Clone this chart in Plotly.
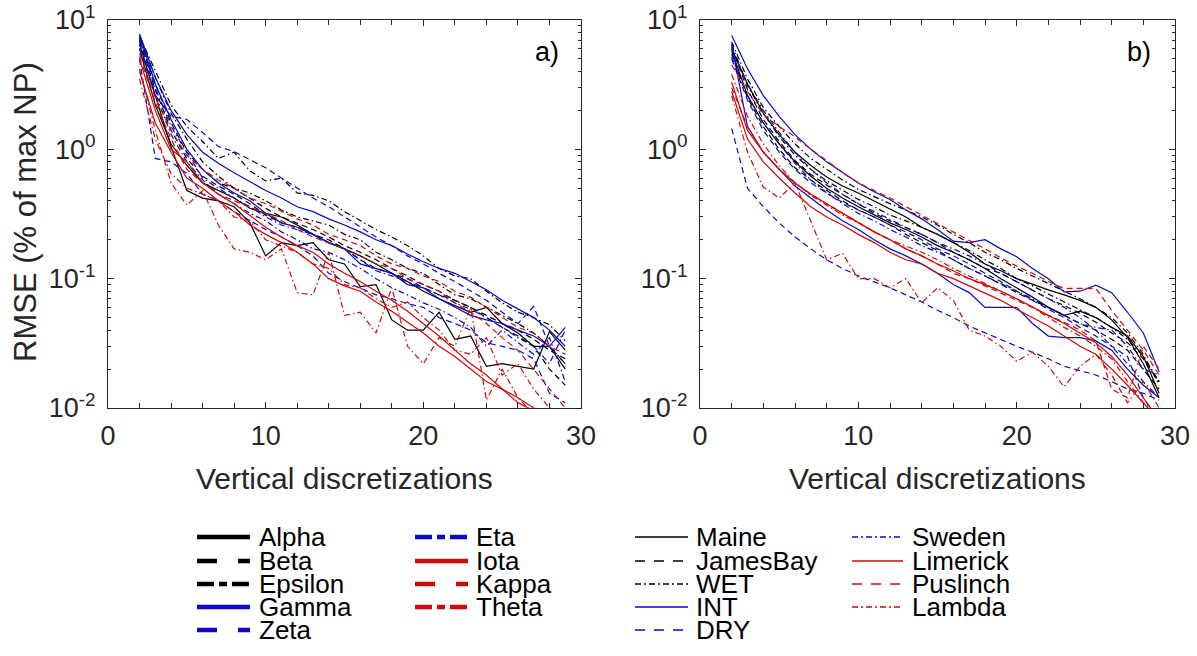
import plotly.graph_objects as go

# ---------------- data ----------------
x_vals = list(range(2, 30))

names_thick = ["Alpha", "Beta", "Epsilon", "Gamma", "Zeta", "Eta", "Iota", "Kappa", "Theta"]
names_thin = ["Maine", "JamesBay", "WET", "INT", "DRY", "Sweden", "Limerick", "Puslinch", "Lambda"]

# panel a
a_alpha = [6.5, 2.6, 1.05, 0.48, 0.42, 0.40, 0.36, 0.27, 0.15, 0.19, 0.18, 0.19, 0.14, 0.13, 0.087, 0.090, 0.048, 0.040, 0.040, 0.055, 0.034, 0.036, 0.021, 0.022, 0.021, 0.020, 0.039, 0.028]
a_beta = [7.0, 3.2, 1.6, 0.95, 0.70, 0.55, 0.50, 0.42, 0.35, 0.30, 0.27, 0.24, 0.21, 0.18, 0.16, 0.14, 0.12, 0.105, 0.090, 0.080, 0.068, 0.060, 0.052, 0.045, 0.040, 0.034, 0.028, 0.024]
a_epsilon = [7.5, 4.0, 2.2, 1.5, 1.15, 0.85, 0.95, 0.68, 0.57, 0.60, 0.46, 0.44, 0.40, 0.33, 0.28, 0.24, 0.21, 0.18, 0.15, 0.12, 0.105, 0.10, 0.080, 0.065, 0.055, 0.050, 0.044, 0.033]
a_gamma = [7.8, 3.6, 2.0, 1.3, 0.95, 0.78, 0.66, 0.56, 0.48, 0.42, 0.36, 0.33, 0.29, 0.26, 0.23, 0.20, 0.18, 0.155, 0.135, 0.12, 0.11, 0.095, 0.082, 0.068, 0.058, 0.050, 0.040, 0.030]
a_zeta = [6.0, 2.6, 1.8, 1.7, 1.35, 1.05, 0.96, 0.83, 0.72, 0.60, 0.50, 0.42, 0.36, 0.30, 0.25, 0.21, 0.18, 0.15, 0.13, 0.11, 0.095, 0.080, 0.068, 0.055, 0.045, 0.061, 0.030, 0.022]
a_eta = [7.2, 3.0, 1.5, 0.95, 0.60, 0.50, 0.42, 0.36, 0.30, 0.26, 0.24, 0.22, 0.19, 0.17, 0.14, 0.115, 0.105, 0.095, 0.085, 0.075, 0.065, 0.058, 0.050, 0.042, 0.035, 0.030, 0.022, 0.040]
a_iota = [5.0, 2.0, 1.0, 0.80, 0.55, 0.45, 0.38, 0.31, 0.25, 0.21, 0.18, 0.16, 0.13, 0.11, 0.095, 0.080, 0.068, 0.056, 0.045, 0.036, 0.028, 0.022, 0.018, 0.014, 0.011, 0.0095, 0.0085, 0.0075]
a_kappa = [5.5, 2.5, 1.4, 0.90, 0.70, 0.58, 0.50, 0.42, 0.38, 0.33, 0.29, 0.26, 0.22, 0.20, 0.18, 0.15, 0.13, 0.12, 0.105, 0.095, 0.080, 0.072, 0.060, 0.050, 0.042, 0.038, 0.030, 0.026]
a_theta = [4.2, 1.4, 0.55, 0.37, 0.48, 0.26, 0.17, 0.16, 0.14, 0.17, 0.078, 0.075, 0.16, 0.052, 0.055, 0.038, 0.085, 0.030, 0.022, 0.035, 0.030, 0.060, 0.0115, 0.020, 0.012, 0.009, 0.0085, 0.008]
a_maine = [6.0, 2.2, 1.1, 0.75, 0.55, 0.48, 0.42, 0.35, 0.32, 0.30, 0.26, 0.22, 0.19, 0.17, 0.15, 0.13, 0.11, 0.095, 0.080, 0.070, 0.062, 0.055, 0.060, 0.045, 0.038, 0.030, 0.030, 0.020]
a_jamesbay = [6.8, 2.9, 1.4, 0.85, 0.62, 0.52, 0.45, 0.38, 0.31, 0.27, 0.25, 0.22, 0.20, 0.17, 0.14, 0.12, 0.11, 0.10, 0.085, 0.075, 0.068, 0.060, 0.050, 0.042, 0.036, 0.030, 0.020, 0.015]
a_wet = [7.3, 3.6, 1.9, 1.2, 0.80, 0.62, 0.50, 0.46, 0.40, 0.34, 0.30, 0.28, 0.26, 0.22, 0.20, 0.16, 0.14, 0.12, 0.11, 0.090, 0.075, 0.070, 0.060, 0.052, 0.045, 0.038, 0.030, 0.022]
a_int = [7.6, 3.2, 1.7, 1.0, 0.70, 0.55, 0.46, 0.40, 0.32, 0.27, 0.25, 0.22, 0.19, 0.17, 0.13, 0.12, 0.11, 0.090, 0.085, 0.070, 0.060, 0.052, 0.048, 0.045, 0.040, 0.036, 0.030, 0.042]
a_dry = [5.0, 0.85, 0.80, 0.65, 0.45, 0.40, 0.33, 0.28, 0.24, 0.21, 0.18, 0.15, 0.11, 0.095, 0.085, 0.075, 0.070, 0.064, 0.060, 0.050, 0.045, 0.040, 0.032, 0.030, 0.028, 0.024, 0.013, 0.011]
a_sweden = [6.5, 2.7, 1.3, 0.80, 0.58, 0.45, 0.38, 0.32, 0.28, 0.23, 0.20, 0.17, 0.16, 0.14, 0.12, 0.10, 0.085, 0.075, 0.065, 0.058, 0.050, 0.042, 0.030, 0.040, 0.032, 0.026, 0.035, 0.016]
a_limerick = [4.0, 1.6, 0.95, 0.60, 0.50, 0.40, 0.33, 0.26, 0.22, 0.19, 0.16, 0.13, 0.10, 0.088, 0.080, 0.066, 0.056, 0.046, 0.038, 0.030, 0.025, 0.020, 0.016, 0.014, 0.012, 0.010, 0.0092, 0.0088]
a_puslinch = [5.2, 2.3, 1.2, 0.70, 0.55, 0.45, 0.40, 0.36, 0.32, 0.28, 0.24, 0.21, 0.19, 0.17, 0.15, 0.13, 0.12, 0.10, 0.090, 0.080, 0.065, 0.055, 0.045, 0.035, 0.028, 0.020, 0.014, 0.010]
a_lambda = [3.5, 1.2, 0.65, 0.50, 0.45, 0.40, 0.30, 0.28, 0.20, 0.18, 0.16, 0.13, 0.12, 0.090, 0.085, 0.070, 0.060, 0.066, 0.050, 0.040, 0.028, 0.026, 0.035, 0.018, 0.022, 0.014, 0.010, 0.009]

# panel b
b_alpha = [5.8, 2.6, 1.6, 1.1, 0.80, 0.62, 0.50, 0.42, 0.36, 0.31, 0.27, 0.24, 0.21, 0.18, 0.16, 0.14, 0.12, 0.10, 0.085, 0.072, 0.060, 0.052, 0.056, 0.050, 0.042, 0.036, 0.025, 0.013]
b_beta = [6.2, 2.9, 1.7, 1.15, 0.82, 0.64, 0.53, 0.45, 0.38, 0.32, 0.28, 0.25, 0.22, 0.19, 0.16, 0.14, 0.12, 0.11, 0.095, 0.082, 0.070, 0.062, 0.054, 0.046, 0.038, 0.032, 0.024, 0.016]
b_epsilon = [6.5, 3.1, 1.9, 1.25, 0.90, 0.70, 0.57, 0.48, 0.41, 0.36, 0.31, 0.28, 0.25, 0.22, 0.19, 0.165, 0.14, 0.12, 0.10, 0.088, 0.076, 0.066, 0.058, 0.050, 0.042, 0.034, 0.025, 0.016]
b_gamma = [6.5, 1.5, 0.95, 0.70, 0.52, 0.42, 0.34, 0.28, 0.24, 0.20, 0.17, 0.15, 0.13, 0.11, 0.090, 0.078, 0.060, 0.060, 0.060, 0.045, 0.036, 0.035, 0.035, 0.033, 0.028, 0.020, 0.015, 0.012]
b_zeta = [5.0, 2.4, 1.4, 0.95, 0.70, 0.55, 0.46, 0.39, 0.34, 0.30, 0.26, 0.23, 0.20, 0.17, 0.15, 0.13, 0.11, 0.095, 0.080, 0.068, 0.058, 0.050, 0.042, 0.036, 0.030, 0.025, 0.012, 0.008]
b_eta = [5.2, 2.6, 1.6, 1.1, 0.78, 0.58, 0.46, 0.38, 0.32, 0.28, 0.24, 0.21, 0.18, 0.16, 0.14, 0.12, 0.105, 0.092, 0.080, 0.070, 0.060, 0.052, 0.045, 0.042, 0.040, 0.030, 0.020, 0.018]
b_iota = [3.3, 1.4, 0.95, 0.70, 0.55, 0.45, 0.38, 0.32, 0.27, 0.23, 0.20, 0.17, 0.15, 0.13, 0.115, 0.10, 0.090, 0.080, 0.070, 0.060, 0.052, 0.045, 0.038, 0.032, 0.025, 0.018, 0.012, 0.008]
b_kappa = [4.5, 2.8, 1.85, 1.5, 1.25, 1.0, 0.82, 0.66, 0.55, 0.48, 0.42, 0.36, 0.31, 0.27, 0.23, 0.20, 0.17, 0.145, 0.125, 0.11, 0.095, 0.084, 0.084, 0.084, 0.057, 0.040, 0.028, 0.018]
b_theta = [3.8, 1.8, 1.1, 0.75, 0.55, 0.44, 0.37, 0.31, 0.27, 0.23, 0.20, 0.18, 0.16, 0.14, 0.12, 0.105, 0.092, 0.080, 0.070, 0.060, 0.050, 0.042, 0.036, 0.030, 0.024, 0.016, 0.011, 0.009]
b_maine = [6.0, 3.2, 1.9, 1.3, 0.95, 0.75, 0.61, 0.52, 0.46, 0.40, 0.35, 0.30, 0.25, 0.22, 0.19, 0.16, 0.13, 0.115, 0.10, 0.090, 0.082, 0.075, 0.068, 0.060, 0.048, 0.035, 0.022, 0.012]
b_jamesbay = [5.5, 2.5, 1.5, 1.0, 0.72, 0.58, 0.48, 0.40, 0.34, 0.30, 0.26, 0.22, 0.19, 0.165, 0.14, 0.12, 0.105, 0.090, 0.078, 0.068, 0.060, 0.052, 0.045, 0.040, 0.034, 0.028, 0.020, 0.014]
b_wet = [6.8, 3.5, 2.1, 1.5, 1.1, 0.85, 0.70, 0.58, 0.49, 0.43, 0.38, 0.34, 0.30, 0.26, 0.22, 0.19, 0.16, 0.14, 0.12, 0.105, 0.092, 0.080, 0.070, 0.060, 0.050, 0.038, 0.026, 0.015]
b_int = [7.6, 4.2, 2.6, 1.8, 1.3, 1.0, 0.80, 0.66, 0.55, 0.47, 0.41, 0.34, 0.29, 0.24, 0.195, 0.19, 0.20, 0.17, 0.148, 0.12, 0.10, 0.079, 0.080, 0.089, 0.078, 0.055, 0.038, 0.019]
b_dry = [1.45, 0.50, 0.36, 0.27, 0.21, 0.17, 0.14, 0.12, 0.105, 0.095, 0.085, 0.075, 0.066, 0.057, 0.050, 0.043, 0.038, 0.034, 0.030, 0.027, 0.024, 0.021, 0.0195, 0.018, 0.016, 0.014, 0.013, 0.0115]
b_sweden = [6.0, 3.2, 2.0, 1.35, 0.95, 0.70, 0.55, 0.45, 0.38, 0.33, 0.29, 0.25, 0.22, 0.19, 0.17, 0.15, 0.13, 0.11, 0.095, 0.082, 0.070, 0.060, 0.050, 0.040, 0.030, 0.022, 0.016, 0.012]
b_limerick = [2.8, 1.2, 0.80, 0.60, 0.46, 0.36, 0.30, 0.26, 0.22, 0.19, 0.16, 0.14, 0.13, 0.11, 0.10, 0.088, 0.078, 0.068, 0.058, 0.050, 0.043, 0.036, 0.030, 0.026, 0.020, 0.015, 0.011, 0.008]
b_puslinch = [3.0, 1.5, 0.95, 0.70, 0.55, 0.45, 0.38, 0.32, 0.27, 0.23, 0.20, 0.17, 0.15, 0.13, 0.11, 0.10, 0.088, 0.077, 0.068, 0.060, 0.052, 0.046, 0.040, 0.033, 0.014, 0.012, 0.030, 0.020]
b_lambda = [2.6, 0.95, 0.51, 0.42, 0.55, 0.28, 0.14, 0.157, 0.10, 0.10, 0.085, 0.10, 0.065, 0.085, 0.068, 0.040, 0.036, 0.030, 0.023, 0.027, 0.021, 0.0146, 0.021, 0.026, 0.018, 0.011, 0.016, 0.010]

panel_a = {"Alpha": a_alpha, "Beta": a_beta, "Epsilon": a_epsilon, "Gamma": a_gamma, "Zeta": a_zeta,
           "Eta": a_eta, "Iota": a_iota, "Kappa": a_kappa, "Theta": a_theta,
           "Maine": a_maine, "JamesBay": a_jamesbay, "WET": a_wet, "INT": a_int, "DRY": a_dry,
           "Sweden": a_sweden, "Limerick": a_limerick, "Puslinch": a_puslinch, "Lambda": a_lambda}
panel_b = {"Alpha": b_alpha, "Beta": b_beta, "Epsilon": b_epsilon, "Gamma": b_gamma, "Zeta": b_zeta,
           "Eta": b_eta, "Iota": b_iota, "Kappa": b_kappa, "Theta": b_theta,
           "Maine": b_maine, "JamesBay": b_jamesbay, "WET": b_wet, "INT": b_int, "DRY": b_dry,
           "Sweden": b_sweden, "Limerick": b_limerick, "Puslinch": b_puslinch, "Lambda": b_lambda}
for d in (panel_a, panel_b):
    for k, v in d.items():
        assert len(v) == len(x_vals), (k, len(v))

# ---------------- styles ----------------
BLACK, BLUE, RED = "#000000", "#0a0ac8", "#cc0a0a"
series_style = {
    "Alpha": (BLACK, "solid"), "Beta": (BLACK, "dash"), "Epsilon": (BLACK, "dashdot"),
    "Gamma": (BLUE, "solid"), "Zeta": (BLUE, "dash"), "Eta": (BLUE, "dashdot"),
    "Iota": (RED, "solid"), "Kappa": (RED, "dash"), "Theta": (RED, "dashdot"),
    "Maine": (BLACK, "solid"), "JamesBay": (BLACK, "dash"), "WET": (BLACK, "dashdot"),
    "INT": (BLUE, "solid"), "DRY": (BLUE, "dash"), "Sweden": (BLUE, "dashdot"),
    "Limerick": (RED, "solid"), "Puslinch": (RED, "dash"), "Lambda": (RED, "dashdot"),
}
plot_dash = {"solid": "solid", "dash": "6px,4px", "dashdot": "6px,3px,1.5px,3px"}
leg_dash_thick = {"solid": "solid", "dash": "20px,21px", "dashdot": "17px,5px,8px,5px"}
leg_dash_thin = {"solid": "solid", "dash": "10px,9px", "dashdot": "6px,3px,2px,3px"}

FONT = "Liberation Sans, Arial, sans-serif"
W, H = 1197, 656
AX = "#262626"

def px(xp):
    return xp / W

def py(yp):
    return 1 - yp / H

fig = go.Figure()

draw_order = ["Maine", "JamesBay", "WET", "Alpha", "Beta", "Epsilon",
              "INT", "DRY", "Sweden", "Gamma", "Zeta", "Eta",
              "Limerick", "Puslinch", "Lambda", "Iota", "Kappa", "Theta"]

for panel, (xa, ya) in ((panel_a, ("x", "y")), (panel_b, ("x2", "y2"))):
    for name in draw_order:
        col, ds = series_style[name]
        fig.add_trace(go.Scatter(
            x=x_vals, y=panel[name], mode="lines", name=name, showlegend=False,
            xaxis=xa, yaxis=ya,
            line=dict(color=col, width=1.2, dash=plot_dash[ds]),
        ))

# ---------------- axes ----------------
y_top, y_bot = 20, 408
dom_y = [py(y_bot), py(y_top)]
minor_log = [m * 10 ** e for e in (-2, -1, 0) for m in range(2, 10)]

def xaxis_cfg(x0, x1):
    return dict(
        domain=[px(x0), px(x1)], range=[0, 30], tickmode="array", tickvals=[0, 10, 20, 30],
        ticks="inside", ticklen=6, tickcolor=AX, showline=True, linecolor=AX,
        linewidth=1, mirror="ticks", showgrid=False, zeroline=False, automargin=False,
        tickfont=dict(family=FONT, size=27, color=AX), ticklabelstandoff=4,
        minor=dict(ticks="inside", ticklen=5, tickcolor=AX, tickmode="array",
                   tickvals=list(range(2, 30, 2)), showgrid=False),
    )

def yaxis_cfg(anchor):
    return dict(
        domain=dom_y, type="log", range=[-2, 1], tickmode="array",
        tickvals=[0.01, 0.1, 1, 10],
        ticktext=["10<sup>-2</sup>", "10<sup>-1</sup>", "10<sup>0</sup>", "10<sup>1</sup>"],
        ticks="inside", ticklen=6, tickcolor=AX, showline=True, linecolor=AX,
        linewidth=1, mirror="ticks", showgrid=False, zeroline=False, anchor=anchor, automargin=False,
        tickfont=dict(family=FONT, size=27, color=AX), ticklabelstandoff=6,
        minor=dict(ticks="inside", ticklen=3, tickcolor=AX, tickmode="array",
                   tickvals=minor_log, showgrid=False),
    )

fig.update_layout(
    template="none",
    xaxis=dict(xaxis_cfg(108, 581), anchor="y"),
    yaxis=yaxis_cfg("x"),
    xaxis2=dict(xaxis_cfg(700, 1175), anchor="y2"),
    yaxis2=yaxis_cfg("x2"),
)

annotations = []
shapes = []

# axis titles
for cx in ((108 + 581) / 2, (700 + 1175) / 2):
    annotations.append(dict(text="Vertical discretizations", x=px(cx), y=py(478), xref="paper", yref="paper",
                            showarrow=False, xanchor="center", yanchor="middle",
                            font=dict(family=FONT, size=30, color=AX)))
annotations.append(dict(text="RMSE (% of max NP)", x=px(25), y=py(212), xref="paper", yref="paper",
                        showarrow=False, xanchor="center", yanchor="middle", textangle=-90,
                        font=dict(family=FONT, size=31, color=AX)))
# panel labels
annotations.append(dict(text="a)", x=px(547), y=py(52), xref="paper", yref="paper", showarrow=False,
                        xanchor="center", yanchor="middle", font=dict(family=FONT, size=27, color="#000000")))
annotations.append(dict(text="b)", x=px(1139), y=py(52), xref="paper", yref="paper", showarrow=False,
                        xanchor="center", yanchor="middle", font=dict(family=FONT, size=27, color="#000000")))

# legend (4 columns)
rows_y = [537, 561, 584, 607, 630]
legend_cols = [
    (197, 250, 257, names_thick[:5], 4.5, leg_dash_thick),
    (415, 468, 474, names_thick[5:], 4.5, leg_dash_thick),
    (635, 688, 694, names_thin[:5], 1.6, leg_dash_thin),
    (852, 903, 910, names_thin[5:], 1.6, leg_dash_thin),
]
for x0, x1, xt, names, lw, dmap in legend_cols:
    for i, name in enumerate(names):
        col, ds = series_style[name]
        yy = rows_y[i]
        shapes.append(dict(type="line", xref="paper", yref="paper", x0=px(x0), x1=px(x1),
                           y0=py(yy), y1=py(yy), line=dict(color=col, width=lw, dash=dmap[ds])))
        annotations.append(dict(text=name, x=px(xt), y=py(yy), xref="paper", yref="paper", showarrow=False,
                                xanchor="left", yanchor="middle",
                                font=dict(family=FONT, size=26, color="#000000")))

fig.update_layout(
    width=W, height=H, margin=dict(l=0, r=0, t=0, b=0, autoexpand=False),
    paper_bgcolor="white", plot_bgcolor="white",
    annotations=annotations, shapes=shapes, showlegend=False,
    font=dict(family=FONT),
)

fig.write_html("out.html")
